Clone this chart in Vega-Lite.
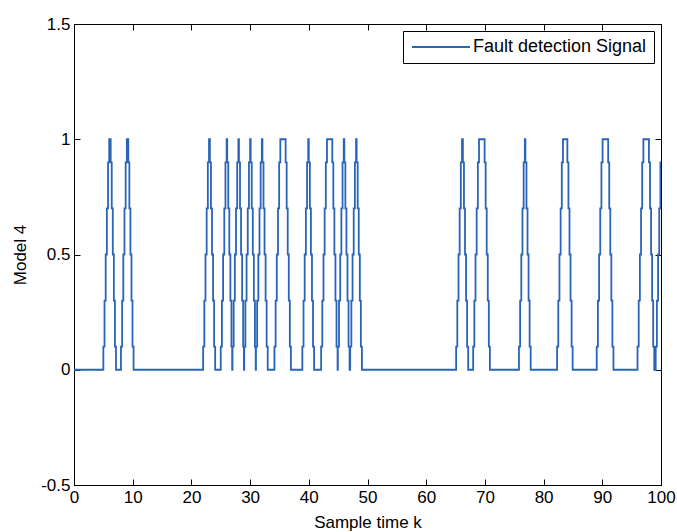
{
  "$schema": "https://vega.github.io/schema/vega-lite/v6.json",
  "width": 587,
  "height": 461,
  "autosize": {"type": "none"},
  "padding": {"left": 74, "top": 24, "right": 16, "bottom": 47},
  "background": "white",
  "config": {
    "font": "Liberation Sans",
    "view": {"stroke": "black", "strokeWidth": 1},
    "axis": {
      "domainColor": "black", "tickColor": "black", "tickSize": -6, "tickWidth": 1,
      "labelColor": "black", "titleColor": "black", "labelFontSize": 17, "titleFontSize": 17,
      "titleFontWeight": "normal", "grid": false, "labelFlush": false, "labelFont": "Liberation Sans", "titleFont": "Liberation Sans"
    },
    "legend": {
      "orient": "top-right", "offset": 7, "padding": 7, "strokeColor": "black", "fillColor": "white",
      "cornerRadius": 0, "symbolType": "M-4,0H4", "symbolSize": 210, "symbolStrokeWidth": 1.8, "symbolOffset": 22,
      "labelFontSize": 18, "labelColor": "black", "labelFont": "Liberation Sans", "labelOffset": 23, "labelLimit": 400
    }
  },
  "data": {"values": [
    {"k":0,"v":0},
    {"k":5,"v":0.1},{"k":5.2,"v":0.3},{"k":5.4,"v":0.5},{"k":5.6,"v":0.7},{"k":5.8,"v":0.9},{"k":6,"v":1},
    {"k":6.25,"v":0.9},{"k":6.43,"v":0.7},{"k":6.61,"v":0.5},{"k":6.79,"v":0.3},{"k":6.97,"v":0.1},{"k":7.15,"v":0},
    {"k":8,"v":0.1},{"k":8.2,"v":0.3},{"k":8.4,"v":0.5},{"k":8.6,"v":0.7},{"k":8.8,"v":0.9},{"k":9,"v":1},
    {"k":9.25,"v":0.9},{"k":9.43,"v":0.7},{"k":9.61,"v":0.5},{"k":9.79,"v":0.3},{"k":9.97,"v":0.1},{"k":10.15,"v":0},
    {"k":22,"v":0.1},{"k":22.2,"v":0.3},{"k":22.4,"v":0.5},{"k":22.6,"v":0.7},{"k":22.8,"v":0.9},{"k":23,"v":1},
    {"k":23.15,"v":0.9},{"k":23.33,"v":0.7},{"k":23.51,"v":0.5},{"k":23.69,"v":0.3},{"k":23.87,"v":0.1},{"k":24.05,"v":0},
    {"k":25,"v":0.1},{"k":25.2,"v":0.3},{"k":25.4,"v":0.5},{"k":25.6,"v":0.7},{"k":25.8,"v":0.9},{"k":26,"v":1},
    {"k":26.1,"v":0.9},{"k":26.28,"v":0.7},{"k":26.46,"v":0.5},{"k":26.64,"v":0.3},{"k":26.82,"v":0.1},{"k":26.95,"v":0},
    {"k":27,"v":0.1},{"k":27.2,"v":0.3},{"k":27.4,"v":0.5},{"k":27.6,"v":0.7},{"k":27.8,"v":0.9},{"k":28,"v":1},
    {"k":28.1,"v":0.9},{"k":28.28,"v":0.7},{"k":28.46,"v":0.5},{"k":28.64,"v":0.3},{"k":28.82,"v":0.1},{"k":28.95,"v":0},
    {"k":29,"v":0.1},{"k":29.2,"v":0.3},{"k":29.4,"v":0.5},{"k":29.6,"v":0.7},{"k":29.8,"v":0.9},{"k":30,"v":1},
    {"k":30.1,"v":0.9},{"k":30.28,"v":0.7},{"k":30.46,"v":0.5},{"k":30.64,"v":0.3},{"k":30.82,"v":0.1},{"k":30.95,"v":0},
    {"k":31,"v":0.1},{"k":31.2,"v":0.3},{"k":31.4,"v":0.5},{"k":31.6,"v":0.7},{"k":31.8,"v":0.9},{"k":32,"v":1},
    {"k":32.1,"v":0.9},{"k":32.28,"v":0.7},{"k":32.46,"v":0.5},{"k":32.64,"v":0.3},{"k":32.82,"v":0.1},{"k":33,"v":0},
    {"k":34.15,"v":0.1},{"k":34.35,"v":0.3},{"k":34.55,"v":0.5},{"k":34.75,"v":0.7},{"k":34.95,"v":0.9},{"k":35.15,"v":1},
    {"k":36.05,"v":0.9},{"k":36.23,"v":0.7},{"k":36.41,"v":0.5},{"k":36.59,"v":0.3},{"k":36.77,"v":0.1},{"k":36.95,"v":0},
    {"k":38.9,"v":0.1},{"k":39.1,"v":0.3},{"k":39.3,"v":0.5},{"k":39.5,"v":0.7},{"k":39.7,"v":0.9},{"k":39.9,"v":1},
    {"k":40,"v":0.9},{"k":40.18,"v":0.7},{"k":40.36,"v":0.5},{"k":40.54,"v":0.3},{"k":40.72,"v":0.1},{"k":40.9,"v":0},
    {"k":42.1,"v":0.1},{"k":42.3,"v":0.3},{"k":42.5,"v":0.5},{"k":42.7,"v":0.7},{"k":42.9,"v":0.9},{"k":43.1,"v":1},
    {"k":44,"v":0.9},{"k":44.18,"v":0.7},{"k":44.36,"v":0.5},{"k":44.54,"v":0.3},{"k":44.72,"v":0.1},{"k":44.9,"v":0},
    {"k":44.95,"v":0.1},{"k":45.15,"v":0.3},{"k":45.35,"v":0.5},{"k":45.55,"v":0.7},{"k":45.75,"v":0.9},{"k":45.95,"v":1},
    {"k":46.05,"v":0.9},{"k":46.23,"v":0.7},{"k":46.41,"v":0.5},{"k":46.59,"v":0.3},{"k":46.77,"v":0.1},{"k":46.95,"v":0},
    {"k":47.05,"v":0.1},{"k":47.25,"v":0.3},{"k":47.45,"v":0.5},{"k":47.65,"v":0.7},{"k":47.85,"v":0.9},{"k":48.05,"v":1},
    {"k":48.15,"v":0.9},{"k":48.33,"v":0.7},{"k":48.51,"v":0.5},{"k":48.69,"v":0.3},{"k":48.87,"v":0.1},{"k":49.05,"v":0},
    {"k":65.1,"v":0.1},{"k":65.3,"v":0.3},{"k":65.5,"v":0.5},{"k":65.7,"v":0.7},{"k":65.9,"v":0.9},{"k":66.1,"v":1},
    {"k":66.25,"v":0.9},{"k":66.43,"v":0.7},{"k":66.61,"v":0.5},{"k":66.79,"v":0.3},{"k":66.97,"v":0.1},{"k":67.15,"v":0},
    {"k":68,"v":0.1},{"k":68.2,"v":0.3},{"k":68.4,"v":0.5},{"k":68.6,"v":0.7},{"k":68.8,"v":0.9},{"k":69,"v":1},
    {"k":69.95,"v":0.9},{"k":70.13,"v":0.7},{"k":70.31,"v":0.5},{"k":70.49,"v":0.3},{"k":70.67,"v":0.1},{"k":70.85,"v":0},
    {"k":75.8,"v":0.1},{"k":76,"v":0.3},{"k":76.2,"v":0.5},{"k":76.4,"v":0.7},{"k":76.6,"v":0.9},{"k":76.8,"v":1},
    {"k":76.9,"v":0.9},{"k":77.08,"v":0.7},{"k":77.26,"v":0.5},{"k":77.44,"v":0.3},{"k":77.62,"v":0.1},{"k":77.8,"v":0},
    {"k":82.3,"v":0.1},{"k":82.5,"v":0.3},{"k":82.7,"v":0.5},{"k":82.9,"v":0.7},{"k":83.1,"v":0.9},{"k":83.3,"v":1},
    {"k":84.05,"v":0.9},{"k":84.23,"v":0.7},{"k":84.41,"v":0.5},{"k":84.59,"v":0.3},{"k":84.77,"v":0.1},{"k":84.95,"v":0},
    {"k":89.05,"v":0.1},{"k":89.25,"v":0.3},{"k":89.45,"v":0.5},{"k":89.65,"v":0.7},{"k":89.85,"v":0.9},{"k":90.05,"v":1},
    {"k":91,"v":0.9},{"k":91.18,"v":0.7},{"k":91.36,"v":0.5},{"k":91.54,"v":0.3},{"k":91.72,"v":0.1},{"k":91.9,"v":0},
    {"k":96,"v":0.1},{"k":96.2,"v":0.3},{"k":96.4,"v":0.5},{"k":96.6,"v":0.7},{"k":96.8,"v":0.9},{"k":97,"v":1},
    {"k":97.95,"v":0.9},{"k":98.13,"v":0.7},{"k":98.31,"v":0.5},{"k":98.49,"v":0.3},{"k":98.67,"v":0.1},{"k":98.85,"v":0},
    {"k":99.1,"v":0.1},{"k":99.3,"v":0.3},{"k":99.5,"v":0.5},{"k":99.7,"v":0.7},{"k":99.9,"v":0.9},{"k":100,"v":0.9}
  ]},
  "layer": [
    {
      "mark": {"type": "line", "interpolate": "step-after", "strokeWidth": 1.8, "clip": true},
      "encoding": {
        "x": {"field": "k", "type": "quantitative", "scale": {"domain": [0, 100], "nice": false},
              "axis": {"values": [0,10,20,30,40,50,60,70,80,90,100], "title": "Sample time k", "labelPadding": 10, "titlePadding": 9}},
        "y": {"field": "v", "type": "quantitative", "scale": {"domain": [-0.5, 1.5], "nice": false, "zero": false},
              "axis": {"values": [-0.5,0,0.5,1,1.5], "labelExpr": "'' + datum.value", "title": "Model 4", "labelPadding": 10, "titlePadding": 11}},
        "color": {"datum": "Fault detection Signal", "type": "nominal", "scale": {"range": ["#2a64b6"]}, "legend": {"title": null}}
      }
    },
    {
      "mark": {"type": "point", "opacity": 0},
      "encoding": {
        "x": {"field": "k", "type": "quantitative", "axis": {"orient": "top", "labels": false, "title": null, "domain": false, "values": [0,10,20,30,40,50,60,70,80,90,100]}},
        "y": {"field": "v", "type": "quantitative", "axis": {"orient": "right", "labels": false, "title": null, "domain": false, "values": [-0.5,0,0.5,1,1.5]}}
      }
    }
  ],
  "resolve": {"axis": {"x": "independent", "y": "independent"}}
}
